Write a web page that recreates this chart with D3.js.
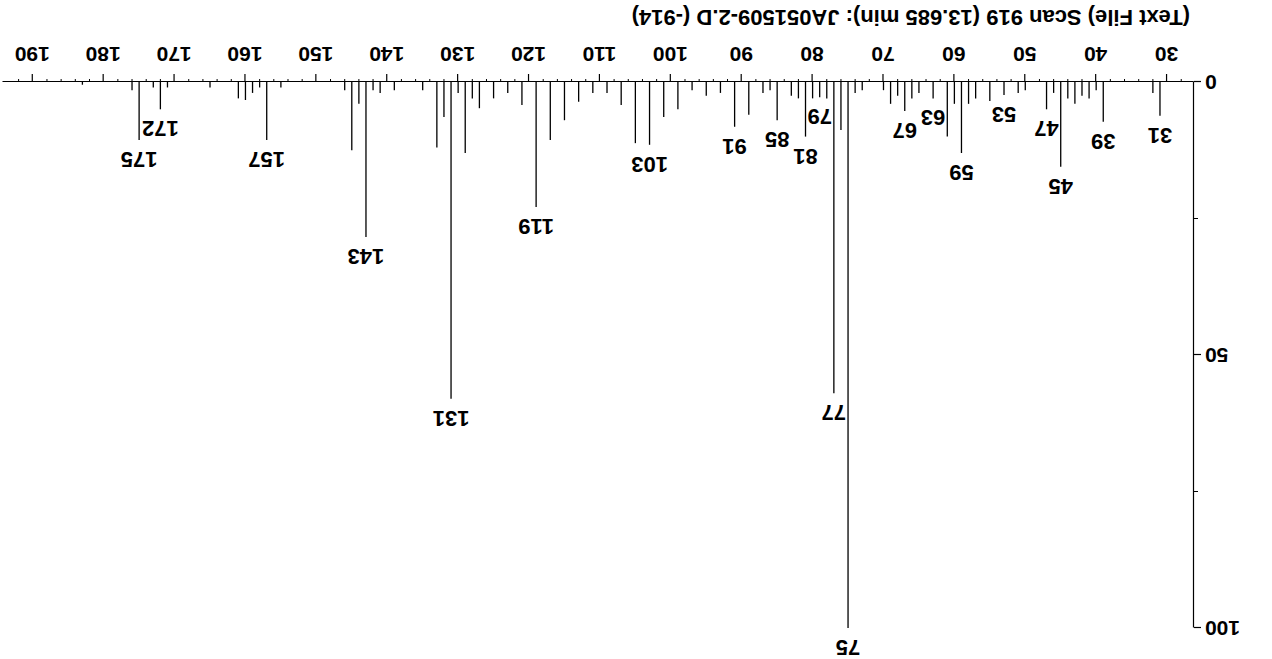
<!DOCTYPE html>
<html><head><meta charset="utf-8">
<script src="https://cdn.jsdelivr.net/npm/d3@7"></script>
<style>
body{margin:0;background:#fff}
svg{display:block}
text{font-family:"Liberation Sans",Arial,sans-serif;fill:#000}
</style></head>
<body><svg id="c" width="1272" height="659"></svg>
<script>
const titleText = "(Text File) Scan 919 (13.685 min): JA051509-2.D (-914)";
const mzValues = [31,32,39,40,41,42,43,44,45,46,47,50,51,53,55,57,58,59,60,61,63,65,66,67,68,69,70,73,74,75,76,77,78,79,80,81,82,83,85,86,87,89,91,93,95,97,99,101,103,105,107,109,111,113,115,117,119,121,123,125,127,128,129,130,131,132,133,135,139,141,142,143,144,145,146,155,157,158,159,160,161,165,171,172,173,175,176,183];
const abundance = [6.2,2,7.3,1.5,3,2.5,4,3,15.5,2,5,1.5,2,2.4,3.5,3,4,13,4,10,3,2,3,5.3,2.5,4,1.5,1.5,2,100,8.8,57,3,2.8,3,10,3,2.5,7,1.5,2,6,8.2,2,2.5,1.5,5,6.4,11.5,11.2,4.2,2,2,3.6,7,10.6,22.9,4.2,2,3,4.8,3,13,2,58,6.4,12,1.5,1.5,2,1.5,28.4,4,12.5,1.5,1,10.6,1,2,3.3,3,1,1,5,1,10.6,1.5,0.5];
const labeledPeaks = [31,39,45,47,53,59,63,67,75,77,79,81,85,91,103,119,131,143,157,172,175];
const xTickValues = [30,40,50,60,70,80,90,100,110,120,130,140,150,160,170,180,190];
const yTickValues = [0,50,100];
const yMinorTickValues = [25,75];

const W = 1272, H = 659;
const svg = d3.select("#c");
svg.append("rect").attr("width", W).attr("height", H).attr("fill", "#fff");
// the whole chart is shown turned upside down
const g = svg.append("g").attr("transform", `rotate(180 ${W/2} ${H/2})`);

const x = d3.scaleLinear().domain([26.2, 194.2]).range([78, 1269]);
const y = d3.scaleLinear().domain([0, 100]).range([577, 31]);

const peaks = mzValues.map((m, i) => ({mz: m, v: abundance[i]}));
const fontFam = '"Liberation Sans",Arial,sans-serif';

// x axis
const xAxis = d3.axisBottom(x).tickValues(xTickValues).tickSize(8).tickPadding(12).tickSizeOuter(0);
const gx = g.append("g").attr("transform", `translate(0,${y(0)})`).call(xAxis);
gx.select(".domain").attr("stroke", "#000").attr("stroke-width", 1.2);
gx.selectAll(".tick line").attr("stroke", "#000").attr("stroke-width", 1.2);
gx.selectAll(".tick text").style("font-size", "21px").style("font-weight", "bold").attr("fill", "#000")
  .style("font-family", fontFam);
const minorX = d3.range(28, 194, 2).filter(v => v % 10 !== 0);
g.append("g").selectAll("line").data(minorX).join("line")
  .attr("x1", d => x(d)).attr("x2", d => x(d))
  .attr("y1", y(0)).attr("y2", y(0) + 3)
  .attr("stroke", "#000").attr("stroke-width", 1);

// y axis
const yAxis = d3.axisLeft(y).tickValues(yTickValues).tickSize(7).tickPadding(4).tickSizeOuter(0);
const gy = g.append("g").attr("transform", `translate(${x.range()[0]},0)`).call(yAxis);
gy.select(".domain").attr("stroke", "#000").attr("stroke-width", 1.2);
gy.selectAll(".tick line").attr("stroke", "#000").attr("stroke-width", 1.2);
gy.selectAll(".tick text").style("font-size", "21px").style("font-weight", "bold").attr("fill", "#000")
  .style("font-family", fontFam);
g.append("g").selectAll("line").data(yMinorTickValues).join("line")
  .attr("x1", x.range()[0]).attr("x2", x.range()[0] - 4)
  .attr("y1", d => y(d)).attr("y2", d => y(d))
  .attr("stroke", "#000").attr("stroke-width", 1);

// peaks
g.append("g").selectAll("line").data(peaks).join("line")
  .attr("x1", d => x(d.mz)).attr("x2", d => x(d.mz))
  .attr("y1", y(0)).attr("y2", d => y(d.v))
  .attr("stroke", "#000").attr("stroke-width", 1.3);

// peak labels
g.append("g").selectAll("text").data(peaks.filter(d => labeledPeaks.includes(d.mz))).join("text")
  .attr("x", d => x(d.mz)).attr("y", d => y(d.v) - 12)
  .attr("text-anchor", "middle")
  .style("font-size", "22px").style("font-weight", "bold")
  .text(d => d.mz);

// title
g.append("text").attr("x", 82).attr("y", 649)
  .attr("text-anchor", "start")
  .style("font-size", "22px").style("font-weight", "bold")
  .text(titleText);
</script></body></html>
